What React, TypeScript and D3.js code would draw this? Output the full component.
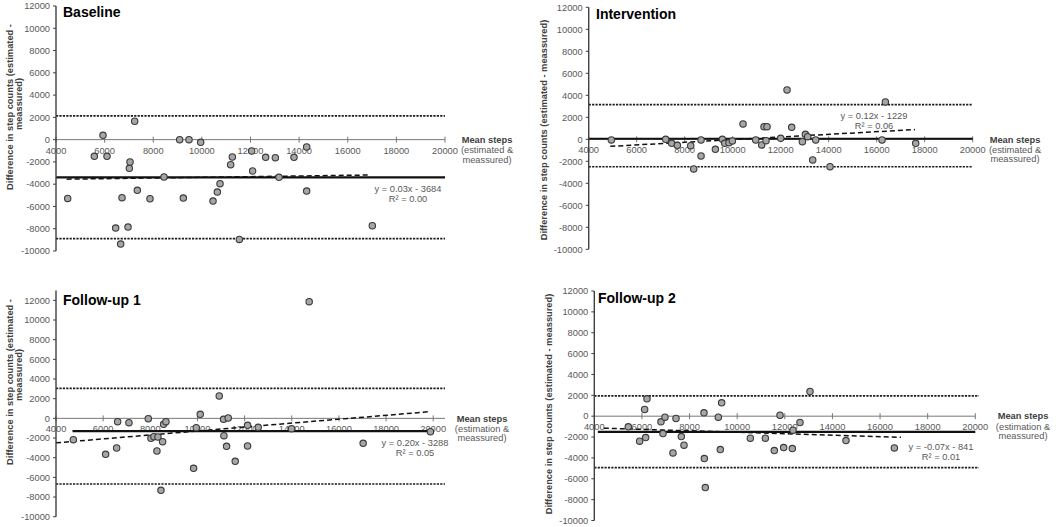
import * as d3 from "d3";

// tick values shared by all four panels
const xTicks = [4000, 6000, 8000, 10000, 12000, 14000, 16000, 18000, 20000];
const yTicks = [-10000, -8000, -6000, -4000, -2000, 0, 2000, 4000, 6000, 8000, 10000, 12000];

// Baseline
const baselineMean = [4480, 5577, 5933, 6098, 6454, 6660, 6715, 6962, 7017, 7044, 7236, 7345, 7866, 8442, 9087, 9237, 9470, 9950, 10458, 10636, 10746, 11184, 11253, 11541, 12048, 12089, 12624, 13022, 13172, 13789, 14310, 14310, 17011];
const baselineDiff = [-5276, -1500, 390, -1500, -7944, -9382, -5216, -7854, -2578, -2008, 1649, -4556, -5306, -3357, 0, -5246, 0, -240, -5516, -4706, -3957, -2248, -1559, -8963, -1019, -2818, -1589, -1619, -3387, -1589, -659, -4616, -7734];

// Intervention
const interventionMean = [4944, 7208, 7458, 7694, 8250, 8375, 8681, 8681, 9278, 9569, 9667, 9847, 9986, 10430, 10958, 11208, 11305, 11430, 11389, 12000, 12264, 12458, 12903, 13028, 13125, 13333, 13458, 14055, 16222, 16361, 17625];
const interventionDiff = [-61, 0, -364, -545, -576, -2697, -61, -1515, -909, 0, -364, -303, -152, 1394, -61, -515, 1152, 1152, -121, 91, 4485, 1091, -212, 455, 242, -1879, -61, -2485, -61, 3394, -364];

// Follow-up 1
const follow1Mean = [4735, 6105, 6572, 6614, 7094, 7914, 8027, 8154, 8281, 8324, 8451, 8522, 8564, 8663, 9836, 9949, 10118, 10924, 11107, 11122, 11235, 11305, 11602, 12125, 12125, 12577, 13990, 14739, 17028, 19882];
const follow1Diff = [-2169, -3661, -3017, -339, -441, -34, -2034, -1864, -3322, -1898, -7322, -2373, -610, -339, -5085, -949, 407, 2271, -102, -1763, -2847, 34, -4373, -712, -2813, -915, -1051, 11864, -2542, -1356];

// Follow-up 2
const follow2Mean = [5428, 5904, 6114, 6156, 6212, 6800, 6884, 6968, 7304, 7430, 7654, 7766, 8606, 8620, 8662, 9208, 9292, 9348, 10552, 11182, 11560, 11798, 11952, 12316, 12344, 12638, 13058, 14570, 16600];
const follow2Diff = [-1024, -2400, 640, -2048, 1664, -544, -1664, -96, -3520, -224, -1952, -2784, 320, -4064, -6848, -96, -3200, 1280, -2112, -2112, -3296, 96, -3008, -3104, -1344, -608, 2368, -2336, -3040];

// bias, limits of agreement and trend line per panel
const biasValues = [-3380, 50, -1290, -1500];
const upperLimits = [2130, 3150, 3050, 1950];
const lowerLimits = [-8890, -2500, -6680, -4930];
const slopes = [0.03, 0.12, 0.2, -0.07];
const intercepts = [-3684, -1229, -3288, -841];
const equations = ["y = 0.03x - 3684", "y = 0.12x - 1229", "y = 0.20x - 3288", "y = -0.07x - 841"];
const rSquared = ["R² = 0.00", "R² = 0.06", "R² = 0.05", "R² = 0.01"];
const titles = ["Baseline", "Intervention", "Follow-up 1", "Follow-up 2"];
const xLabelSecond = ["(estimated &", "(estimated &", "(estimation &", "(estimation &"];

const meanSeries = [baselineMean, interventionMean, follow1Mean, follow2Mean];
const diffSeries = [baselineDiff, interventionDiff, follow1Diff, follow2Diff];

// layout of each panel (pixels, plus the extent of lines in x units)
const layouts = [
  { left: 56, right: 445, top: 6, bottom: 251, xMax: 20000, yMax: 12000, biasSpan: [4000, 20000], loaSpan: [4000, 20000], trendSpan: [4440, 16920], labelX: 487, eqX: 408, eqY: 192, titleX: 63, titleY: 17, yLabel: [{ x: 10, y: 107, t: "Difference in step counts (estimated -" }, { x: 19, y: 104, t: "meassured)" }] },
  { left: 588.7, right: 972.7, top: 7.3, bottom: 249.3, xMax: 20000, yMax: 12000, biasSpan: [4000, 20000], loaSpan: [4000, 20000], trendSpan: [4900, 17600], labelX: 1015, eqX: 874, eqY: 119, titleX: 596, titleY: 18.5, yLabel: [{ x: 544, y: 130, t: "Difference in step counts (estimated - meassured)" }] },
  { left: 56, right: 445, top: 290.5, bottom: 516.7, xMax: 20500, yMax: 13000, biasSpan: [4700, 20000], loaSpan: [4000, 20500], trendSpan: [4000, 19882], labelX: 482, eqX: 415, eqY: 446, titleX: 63, titleY: 304.5, yLabel: [{ x: 10, y: 382, t: "Difference in step counts (estimated -" }, { x: 19, y: 375, t: "meassured)" }] },
  { left: 594.3, right: 975.3, top: 291, bottom: 520.5, xMax: 20000, yMax: 12000, biasSpan: [4150, 20000], loaSpan: [4000, 20150], trendSpan: [4400, 16880], labelX: 1023, eqX: 941, eqY: 450, titleX: 598, titleY: 302.5, yLabel: [{ x: 549, y: 404, t: "Difference in step counts (estimated - meassured)" }] },
];

const FONT = "'Liberation Sans', Arial, sans-serif";
const GREY = "#595959";

function Panel({ i }: { i: number }) {
  const L = layouts[i];
  const x = d3.scaleLinear().domain([4000, L.xMax]).range([L.left, L.right]);
  const y = d3.scaleLinear().domain([-10000, L.yMax]).range([L.bottom, L.top]);
  const y0 = y(0);
  const trend = d3.line<number>()
    .x((v) => x(v))
    .y((v) => y(slopes[i] * v + intercepts[i]));

  return (
    <g>
      {/* limits of agreement */}
      {[upperLimits[i], lowerLimits[i]].map((v, k) => (
        <line key={k} x1={x(L.loaSpan[0])} x2={x(L.loaSpan[1])} y1={y(v)} y2={y(v)}
          stroke="#1a1a1a" strokeWidth={1.6} strokeDasharray="2.2,1.2" />
      ))}

      {/* x axis at zero */}
      <line x1={x(4000)} x2={x(L.xMax)} y1={y0} y2={y0} stroke="#777" strokeWidth={1} />
      {xTicks.map((t) => (
        <g key={t}>
          <line x1={x(t)} x2={x(t)} y1={y0 - 3} y2={y0 + 3} stroke="#777" strokeWidth={1} />
          <text x={x(t)} y={y0 + 14} fontSize={9.3} fill={GREY} textAnchor="middle" fontFamily={FONT}>{t}</text>
        </g>
      ))}

      {/* bias */}
      <line x1={x(L.biasSpan[0])} x2={x(L.biasSpan[1])} y1={y(biasValues[i])} y2={y(biasValues[i])}
        stroke="#111" strokeWidth={2.2} />

      {/* trend */}
      <path d={trend(L.trendSpan) ?? ""} fill="none" stroke="#111" strokeWidth={1.5} strokeDasharray="5,3" />

      {/* y axis */}
      <line x1={L.left} x2={L.left} y1={L.top} y2={L.bottom} stroke="#404040" strokeWidth={1.4} />
      {yTicks.map((t) => (
        <g key={t}>
          <line x1={L.left - 3} x2={L.left} y1={y(t)} y2={y(t)} stroke="#404040" strokeWidth={1} />
          <text x={L.left - 6} y={y(t)} dy="0.35em" fontSize={9.3} fill={GREY} textAnchor="end" fontFamily={FONT}>{t}</text>
        </g>
      ))}

      {/* points */}
      {meanSeries[i].map((m, k) => (
        <circle key={k} cx={x(m)} cy={y(diffSeries[i][k])} r={3.2} fill="#a6a6a6" stroke="#3a3a3a" strokeWidth={1.1} />
      ))}

      <text x={L.titleX} y={L.titleY} fontSize={14} fontWeight="bold" fill="#000" fontFamily={FONT}>{titles[i]}</text>

      {L.yLabel.map((l, k) => (
        <text key={k} transform={`translate(${l.x},${l.y}) rotate(-90)`} textAnchor="middle" dy="0.35em"
          fontSize={9.3} fontWeight="bold" fill="#404040" fontFamily={FONT}>{l.t}</text>
      ))}

      <text x={L.labelX} y={y0 + 3.3} fontSize={9.3} fontWeight="bold" fill="#404040" textAnchor="middle" fontFamily={FONT}>Mean steps</text>
      <text x={L.labelX} y={y0 + 13.8} fontSize={9.3} fill={GREY} textAnchor="middle" fontFamily={FONT}>{xLabelSecond[i]}</text>
      <text x={L.labelX} y={y0 + 23} fontSize={9.3} fill={GREY} textAnchor="middle" fontFamily={FONT}>meassured)</text>

      <text x={L.eqX} y={L.eqY} fontSize={9.3} fill={GREY} textAnchor="middle" fontFamily={FONT}>{equations[i]}</text>
      <text x={L.eqX} y={L.eqY + 10} fontSize={9.3} fill={GREY} textAnchor="middle" fontFamily={FONT}>{rSquared[i]}</text>
    </g>
  );
}

export default function App() {
  return (
    <svg width={1056} height={527} style={{ position: "absolute", left: 0, top: 0, background: "#fff" }}>
      {layouts.map((_, i) => <Panel key={i} i={i} />)}
    </svg>
  );
}
